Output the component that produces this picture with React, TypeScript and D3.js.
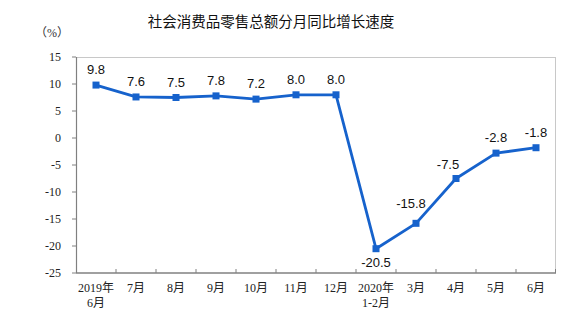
import * as d3 from 'd3';

// 社会消费品零售总额分月同比增长速度
const months = ['2019年\n6月', '7月', '8月', '9月', '10月', '11月', '12月', '2020年\n1-2月', '3月', '4月', '5月', '6月'];
const growth = [9.8, 7.6, 7.5, 7.8, 7.2, 8.0, 8.0, -20.5, -15.8, -7.5, -2.8, -1.8];
const labelPlace = ['top', 'top', 'top', 'top', 'top', 'top', 'top', 'bottom', 'topLeft', 'left', 'top', 'top'];
const yTicks = [15, 10, 5, 0, -5, -10, -15, -20, -25];

const W = 586;
const H = 323;
const margin = { top: 57, right: 30, bottom: 50, left: 76 };
const BLUE = '#1662cc';
const SERIF = '"Liberation Serif", "Times New Roman", "Noto Sans CJK SC", serif';
const SANS = '"Liberation Sans", Arial, sans-serif';

export default function App() {
  const innerW = W - margin.left - margin.right;
  const innerH = H - margin.top - margin.bottom;

  const x = d3.scaleBand<string>().domain(months).range([0, innerW]);
  const y = d3.scaleLinear().domain([-25, 15]).range([innerH, 0]);
  const cx = (i: number) => (x(months[i]) ?? 0) + x.bandwidth() / 2;

  const line = d3.line<number>()
    .x((_, i) => cx(i))
    .y((d) => y(d));

  const labelXY = (i: number) => {
    const px = cx(i);
    const py = y(growth[i]);
    switch (labelPlace[i]) {
      case 'bottom': return [px, py + 18];
      case 'topLeft': return [px - 5, py - 15];
      case 'left': return [px - 8, py - 10];
      default: return [px, py - 11];
    }
  };

  // boundaries between categories for x ticks
  const xBounds = months.map((m) => (x(m) ?? 0) + x.bandwidth()).slice(0, -1);

  return (
    <svg width={W} height={H} style={{ position: 'absolute', left: 0, top: 0, background: '#fff' }}>
      <text x={271} y={27} textAnchor="middle" fontSize={14.5}
        fontFamily='"Noto Sans CJK SC", sans-serif' fill="#111">
        社会消费品零售总额分月同比增长速度
      </text>
      <text x={52} y={37} textAnchor="middle" fontSize={12} fontFamily={SERIF} fill="#333">（%）</text>

      <g transform={`translate(${margin.left},${margin.top})`}>
        {/* frame */}
        <line x1={0} x2={innerW} y1={0.5} y2={0.5} stroke="#c8c8c8" />
        <line x1={innerW - 0.5} x2={innerW - 0.5} y1={0} y2={innerH} stroke="#c8c8c8" />
        <line x1={0.5} x2={0.5} y1={0} y2={innerH} stroke="#808080" strokeWidth={1.2} />
        <line x1={0} x2={innerW} y1={innerH} y2={innerH} stroke="#808080" strokeWidth={1.5} />

        {yTicks.map((t) => (
          <g key={t} transform={`translate(0,${y(t)})`}>
            <line x1={-4} x2={0} stroke="#808080" />
            <text x={-15} dy="0.35em" textAnchor="end" fontSize={12} fontFamily={SERIF} fill="#222">{t}</text>
          </g>
        ))}

        {xBounds.map((b, i) => (
          <line key={i} x1={b} x2={b} y1={innerH} y2={innerH - 4} stroke="#808080" />
        ))}
        <line x1={innerW - 0.5} x2={innerW - 0.5} y1={innerH} y2={innerH - 4} stroke="#808080" />

        {months.map((m, i) => (
          <text key={m} x={cx(i)} y={innerH + 19} textAnchor="middle" fontSize={12} fontFamily={SERIF} fill="#222">
            {m.split('\n').map((part, j) => (
              <tspan key={j} x={cx(i)} dy={j === 0 ? 0 : 15}>{part}</tspan>
            ))}
          </text>
        ))}

        <path d={line(growth) ?? ''} fill="none" stroke={BLUE} strokeWidth={2.8} strokeLinejoin="round" />
        {growth.map((v, i) => (
          <rect key={i} x={cx(i) - 3.5} y={y(v) - 3.5} width={7} height={7} fill={BLUE} />
        ))}

        {growth.map((v, i) => {
          const [lx, ly] = labelXY(i);
          return (
            <text key={i} x={lx} y={ly} textAnchor="middle" fontSize={13} fontFamily={SANS} fill="#111">
              {v.toFixed(1)}
            </text>
          );
        })}
      </g>
    </svg>
  );
}
